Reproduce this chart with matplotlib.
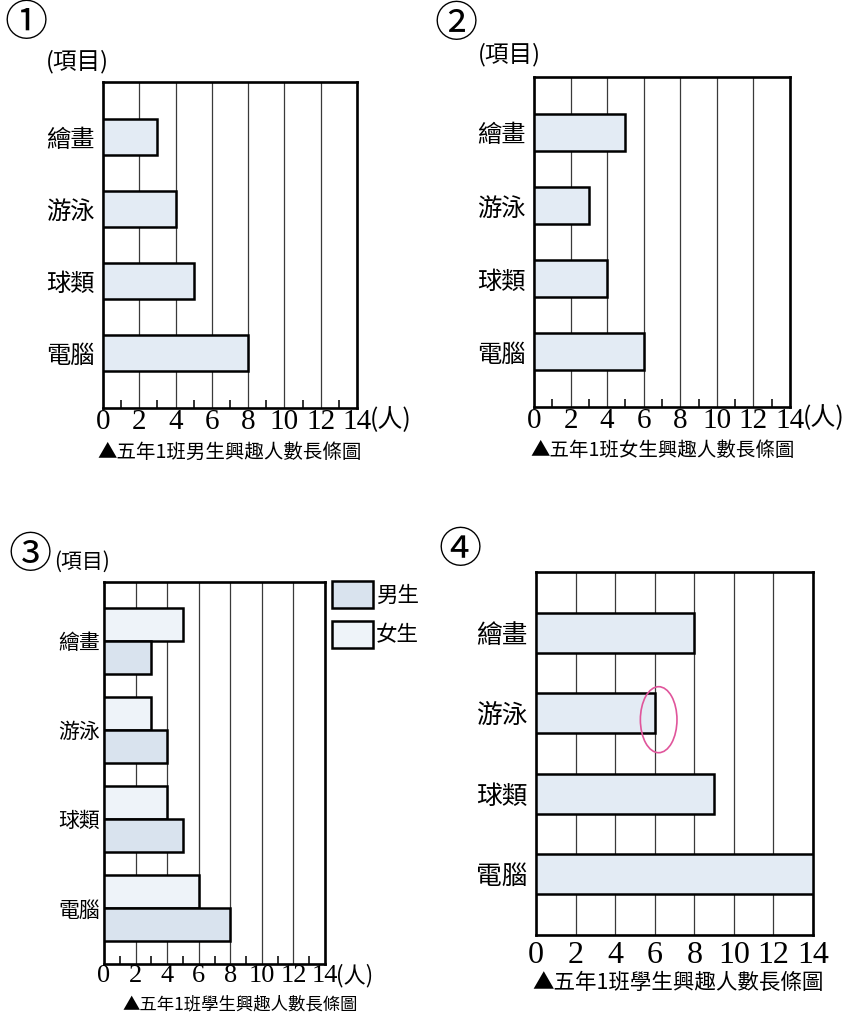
import matplotlib
matplotlib.use("Agg")
import matplotlib.pyplot as plt
from matplotlib.patches import Ellipse
import numpy as np

plt.rcParams['font.family'] = ['Noto Sans CJK TC', 'DejaVu Sans']

# ---------------- data ----------------
categories = ['繪畫', '游泳', '球類', '電腦']
boys = [3, 4, 5, 8]
girls = [5, 3, 4, 6]
total = [8, 6, 9, 14]
xticks = [0, 2, 4, 6, 8, 10, 12, 14]
title_boys = '▲五年1班男生興趣人數長條圖'
title_girls = '▲五年1班女生興趣人數長條圖'
title_all = '▲五年1班學生興趣人數長條圖'

W, H = 847, 1015
fig = plt.figure(figsize=(W / 100, H / 100), dpi=100)
fig.patch.set_facecolor('white')

EDGE = 'black'
FILL = '#e3ebf4'
FILL_BOY = '#d9e3ee'
FILL_GIRL = '#eef3f9'
SERIF = 'Liberation Serif'
CJK = ['Noto Sans CJK TC', 'DejaVu Sans']


def add_ax(l, t, r, b):
    return fig.add_axes([l / W, 1 - b / H, (r - l) / W, (b - t) / H])


def style(ax, minor=True, tick_size=21, pad=1):
    ax.set_xlim(0, 14)
    ax.set_xticks(xticks)
    ax.set_xticklabels([str(v) for v in xticks], fontfamily=SERIF, fontsize=tick_size)
    ax.tick_params(axis='x', which='major', length=0, pad=pad)
    if minor:
        ax.set_xticks(np.arange(1, 14, 2), minor=True)
        ax.tick_params(axis='x', which='minor', direction='in', length=6, width=1.3, color='#222')
    ax.tick_params(axis='y', length=0, pad=6)
    for lab in ax.get_yticklabels():
        lab.set_fontfamily(CJK)
        lab.set_fontsize(17.5)
        lab.set_fontweight('medium')
    ax.grid(axis='x', which='major', color='#3a3a3a', lw=0.9)
    ax.set_axisbelow(True)
    for s in ax.spines.values():
        s.set_linewidth(1.9)
        s.set_color('black')


def single(ax, values, fill, margin=0.76):
    y = np.arange(len(categories))
    ax.barh(y, values, height=0.5, color=fill, edgecolor=EDGE, linewidth=1.8, zorder=3)
    ax.set_ylim(len(categories) - 1 + margin, -margin)
    ax.set_yticks(y)
    ax.set_yticklabels(categories)


# ---------- panel 1 ----------
ax1 = add_ax(103, 82, 357, 408)
single(ax1, boys, FILL)
style(ax1)
fig.text(26 / W, 1 - 24 / H, '①', fontsize=31, ha='center', va='center', family=CJK)
fig.text(46 / W, 1 - 62 / H, '(項目)', fontsize=17, ha='left', va='center', family=CJK)
fig.text(370 / W, 1 - 420 / H, '(人)', fontsize=18, ha='left', va='center', family=CJK)
fig.text(97 / W, 1 - 452 / H, title_boys, fontsize=14, ha='left', va='center', family=CJK)

# ---------- panel 2 ----------
ax2 = add_ax(534, 77, 790, 407)
single(ax2, girls, FILL)
style(ax2)
fig.text(456 / W, 1 - 25 / H, '②', fontsize=31, ha='center', va='center', family=CJK)
fig.text(478 / W, 1 - 55 / H, '(項目)', fontsize=17, ha='left', va='center', family=CJK)
fig.text(803 / W, 1 - 418 / H, '(人)', fontsize=18, ha='left', va='center', family=CJK)
fig.text(530 / W, 1 - 450 / H, title_girls, fontsize=14, ha='left', va='center', family=CJK)

# ---------- panel 3 ----------
ax3 = add_ax(104, 582, 325, 964)
y = np.arange(len(categories))
hb = 0.37
bg = ax3.barh(y - hb / 2, girls, height=hb, color=FILL_GIRL, edgecolor=EDGE, linewidth=1.8,
              zorder=3, label='女生')
bb = ax3.barh(y + hb / 2, boys, height=hb, color=FILL_BOY, edgecolor=EDGE, linewidth=1.8,
              zorder=3, label='男生')
ax3.set_ylim(3.63, -0.66)
ax3.set_yticks(y)
ax3.set_yticklabels(categories)
style(ax3, tick_size=19)
ax3.tick_params(axis='y', pad=3)
for lab in ax3.get_yticklabels():
    lab.set_fontsize(15)
    lab.set_fontweight('medium')
fig.legend(handles=[bb, bg], labels=['男生', '女生'], loc='upper left',
           bbox_to_anchor=(332 / W, 1 - 581 / H), frameon=False,
           handlelength=1.9, handleheight=1.55, handletextpad=0.15, labelspacing=0.6,
           borderpad=0, borderaxespad=0, prop={'family': CJK, 'size': 15.5})
fig.text(30 / W, 1 - 556 / H, '③', fontsize=31, ha='center', va='center', family=CJK)
fig.text(54 / W, 1 - 562 / H, '(項目)', fontsize=15, ha='left', va='center', family=CJK)
fig.text(336 / W, 1 - 976 / H, '(人)', fontsize=16, ha='left', va='center', family=CJK)
fig.text(122 / W, 1 - 1004 / H, title_all, fontsize=12.5, ha='left', va='center', family=CJK)

# ---------- panel 4 ----------
ax4 = add_ax(536, 572, 813, 935)
single(ax4, total, FILL, margin=0.755)
style(ax4, minor=False, tick_size=23, pad=4)
for lab in ax4.get_yticklabels():
    lab.set_fontsize(18.5)
ax4.add_patch(Ellipse((6.2, 1.08), 1.85, 0.82, fill=False, edgecolor='#e0559b', lw=1.2, zorder=5))
fig.text(460 / W, 1 - 551 / H, '④', fontsize=31, ha='center', va='center', family=CJK)
fig.text(532 / W, 1 - 983 / H, title_all, fontsize=15.5, ha='left', va='center', family=CJK)

fig.savefig('out.png', dpi=100, facecolor='white')
